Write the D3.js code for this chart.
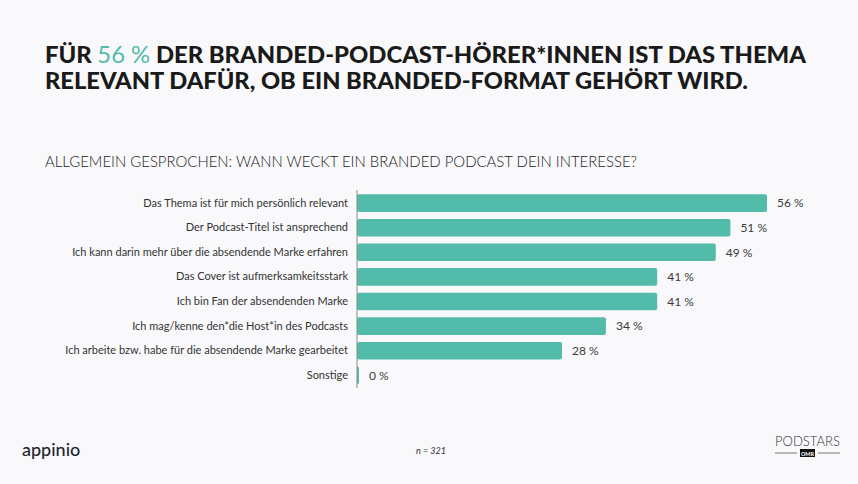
<!DOCTYPE html>
<html>
<head>
<meta charset="utf-8">
<script src="https://cdn.jsdelivr.net/npm/d3@7"></script>
<style>
  html, body { margin: 0; padding: 0; background: #f9f9fb; }
  svg { display: block; }
</style>
</head>
<body>
<div id="chart"></div>
<script>
const width = 858;
const height = 484;

// data
const categories = [
  "Das Thema ist für mich persönlich relevant",
  "Der Podcast-Titel ist ansprechend",
  "Ich kann darin mehr über die absendende Marke erfahren",
  "Das Cover ist aufmerksamkeitsstark",
  "Ich bin Fan der absendenden Marke",
  "Ich mag/kenne den*die Host*in des Podcasts",
  "Ich arbeite bzw. habe für die absendende Marke gearbeitet",
  "Sonstige"
];
const values = [56, 51, 49, 41, 41, 34, 28, 0];

const teal = "#52bbaa";
const font = "'Lato', 'Noto Sans', sans-serif";

const svg = d3.select('#chart')
  .append('svg')
  .attr('width', width)
  .attr('height', height);

svg.append('rect')
  .attr('width', width)
  .attr('height', height)
  .attr('fill', '#f9f9fb');

// Headline
const title = svg.append('g')
  .attr('font-family', font)
  .attr('font-weight', 900)
  .attr('font-size', 23)
  .attr('fill', '#1a1a1a');

const t1 = title.append('text')
  .attr('x', 45)
  .attr('y', 63)
  .attr('textLength', 761)
  .attr('lengthAdjust', 'spacingAndGlyphs');
t1.append('tspan').text('FÜR ');
t1.append('tspan').attr('fill', teal).attr('font-weight', 400).text('56 %');
t1.append('tspan').text(' DER BRANDED-PODCAST-HÖRER*INNEN IST DAS THEMA');

title.append('text')
  .attr('x', 45)
  .attr('y', 89)
  .attr('textLength', 703)
  .attr('lengthAdjust', 'spacingAndGlyphs')
  .text('RELEVANT DAFÜR, OB EIN BRANDED-FORMAT GEHÖRT WIRD.');

// Question
svg.append('text')
  .attr('x', 45)
  .attr('y', 167)
  .attr('font-family', font)
  .attr('font-weight', 300)
  .attr('font-size', 16)
  .attr('fill', '#1a1a1a')
  .attr('textLength', 592)
  .attr('lengthAdjust', 'spacingAndGlyphs')
  .text('ALLGEMEIN GESPROCHEN: WANN WECKT EIN BRANDED PODCAST DEIN INTERESSE?');

// Scales
const x = d3.scaleLinear()
  .domain([0, 56])
  .range([357, 767]);

const y = d3.scaleBand()
  .domain(categories)
  .range([190.8, 387.6])
  .paddingInner(0.286)
  .paddingOuter(0.143);

// Bars
svg.append('g')
  .selectAll('rect')
  .data(values)
  .join('rect')
    .attr('x', x(0))
    .attr('y', (d, i) => y(categories[i]))
    .attr('width', d => Math.max(2, x(d) - x(0)))
    .attr('height', y.bandwidth())
    .attr('rx', 2)
    .attr('fill', teal);

// Axis line + category labels
const yAxis = svg.append('g')
  .attr('transform', `translate(${x(0)},0)`)
  .call(d3.axisLeft(y).tickSize(0).tickPadding(9));
yAxis.select('.domain')
  .attr('d', 'M0,190V388')
  .attr('stroke', '#8a8a8a')
  .attr('stroke-width', 1);
yAxis.selectAll('text')
  .attr('font-family', font)
  .attr('font-size', 11)
  .attr('fill', '#333');

// Value labels
svg.append('g')
  .selectAll('text')
  .data(values)
  .join('text')
    .attr('x', d => Math.max(x(d), x(0) + 2) + 10)
    .attr('y', (d, i) => y(categories[i]) + y.bandwidth() / 2)
    .attr('dy', '0.35em')
    .attr('font-family', font)
    .attr('font-size', 12)
    .attr('fill', '#3a3a3a')
    .text(d => `${d} %`);

// Footer
svg.append('text')
  .attr('x', 22)
  .attr('y', 456)
  .attr('font-family', font)
  .attr('font-size', 18)
  .attr('font-weight', 500)
  .attr('fill', '#1f2430')
  .text('appinio');

svg.append('text')
  .attr('x', 431)
  .attr('y', 454)
  .attr('text-anchor', 'middle')
  .attr('font-family', font)
  .attr('font-style', 'italic')
  .attr('font-size', 9)
  .attr('fill', '#333')
  .text('n = 321');

const logo = svg.append('g').attr('transform', 'translate(775,0)');
logo.append('text')
  .attr('x', 0)
  .attr('y', 446)
  .attr('font-family', font)
  .attr('font-weight', 300)
  .attr('font-size', 13)
  .attr('fill', '#333')
  .attr('textLength', 65)
  .attr('lengthAdjust', 'spacingAndGlyphs')
  .text('PODSTARS');
logo.append('line').attr('x1', 0).attr('x2', 22).attr('y1', 453).attr('y2', 453)
  .attr('stroke', '#777').attr('stroke-width', 1);
logo.append('line').attr('x1', 43).attr('x2', 65).attr('y1', 453).attr('y2', 453)
  .attr('stroke', '#777').attr('stroke-width', 1);
logo.append('rect').attr('x', 25).attr('y', 449).attr('width', 15).attr('height', 8)
  .attr('fill', '#111');
logo.append('text')
  .attr('x', 32.5).attr('y', 455.5)
  .attr('text-anchor', 'middle')
  .attr('font-family', font)
  .attr('font-weight', 700)
  .attr('font-size', 5.5)
  .attr('fill', '#fff')
  .text('OMR');
</script>
</body>
</html>
